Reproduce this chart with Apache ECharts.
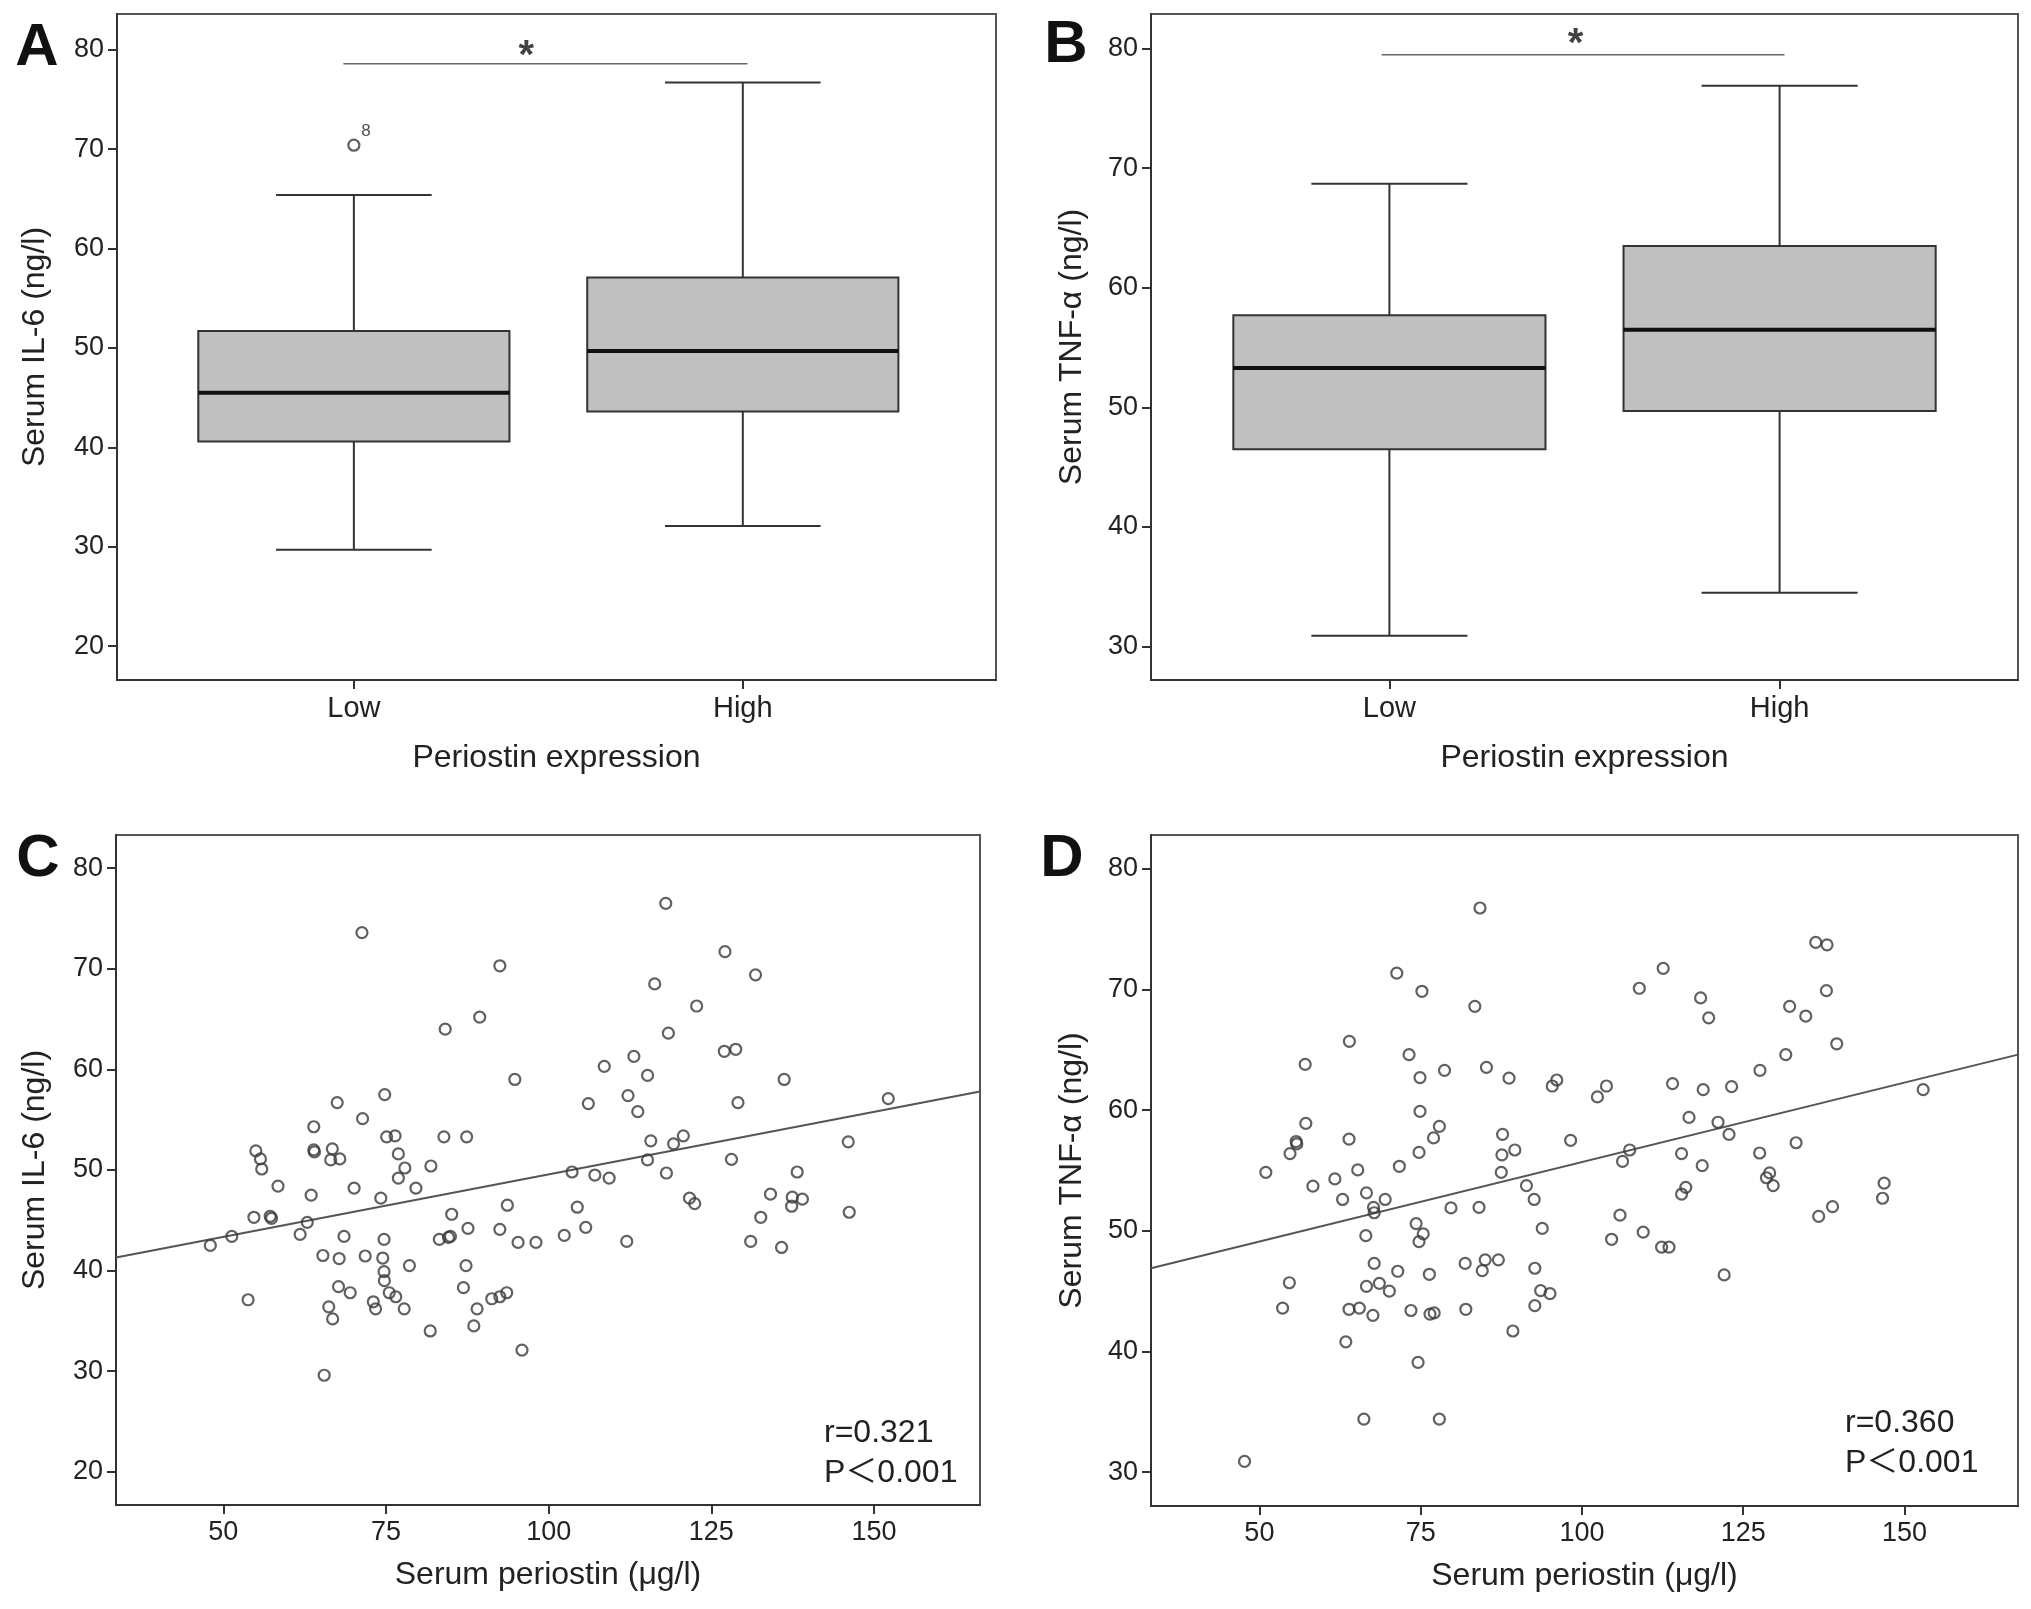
<!DOCTYPE html>
<html><head><meta charset="utf-8">
<script src="https://cdn.jsdelivr.net/npm/echarts@6/dist/echarts.min.js"></script>
<style>html,body{margin:0;padding:0;background:#fff}#c{width:2031px;height:1609px}</style>
</head><body><div id="c"></div>
<script>
// ---------- data ----------
const groups = ['Low', 'High'];
// [min, Q1, median, Q3, max]
const il6Low  = [29.7, 40.6, 45.5, 51.7, 65.4];
const il6High = [32.1, 43.6, 49.7, 57.1, 76.7];
const il6Outlier = [70.4];
const il6OutlierLabel = '8';
const tnfLow  = [30.9, 46.5, 53.3, 57.7, 68.7];
const tnfHigh = [34.5, 49.7, 56.5, 63.5, 76.9];
const sigIl6 = 78.6;
const sigTnf = 79.5;

const il6Ticks = [20, 30, 40, 50, 60, 70, 80];
const tnfTicks = [30, 40, 50, 60, 70, 80];
const periostinTicks = [50, 75, 100, 125, 150];

const periostinC = [71.3,92.5,89.4,84.1,94.8,74.8,67.5,71.4,63.9,
 75.1,76.4,83.9,87.4,55.0,55.7,55.9,63.9,64.0,66.75,66.5,67.9,
 76.9,77.9,76.9,81.9,79.6,70.1,74.2,63.5,58.4,54.7,57.2,57.4,
 62.9,61.8,51.3,48.0,68.55,74.7,65.3,67.8,71.8,74.5,78.6,
 74.7,74.75,75.5,76.5,67.7,69.5,73.05,73.4,77.8,66.2,66.8,53.8,65.5,
 81.8,86.9,87.3,85.1,87.6,83.2,84.6,84.9,93.65,92.5,95.3,98.05,
 89.0,88.5,91.25,92.5,93.55,95.9,
 118.0,127.1,131.8,116.3,122.75,118.4,113.1,108.55,115.2,127.0,128.75,136.2,112.2,106.1,113.7,129.1,152.2,
 115.7,119.2,120.7,146.05,103.6,107.1,109.3,115.2,118.1,128.1,138.2,121.65,122.45,134.1,137.45,139.0,137.35,146.2,132.6,104.4,105.7,102.4,112.0,131.05,135.8];
const il6 = [73.6,70.3,65.2,64.0,59.0,57.5,56.7,55.1,54.3,
 53.3,53.4,53.3,53.3,51.9,51.1,50.1,52.0,51.8,52.1,51.0,51.1,
 51.6,50.2,49.2,50.4,48.2,48.2,47.2,47.5,48.4,45.3,45.4,45.2,
 44.8,43.6,43.4,42.5,43.4,43.1,41.5,41.2,41.45,41.25,40.5,
 39.9,39.0,37.8,37.4,38.4,37.8,36.9,36.2,36.2,36.4,35.2,37.1,29.6,
 34.0,38.3,40.5,45.6,44.2,43.1,43.3,43.4,46.5,44.1,42.8,42.8,
 36.2,34.5,37.2,37.4,37.8,32.1,
 76.5,71.7,69.4,68.5,66.3,63.6,61.3,60.3,59.4,61.8,62.0,59.0,57.4,56.6,55.8,56.7,57.1,
 52.9,52.6,53.4,52.8,49.8,49.5,49.2,51.0,49.7,51.05,49.8,47.2,46.65,47.6,47.3,47.1,46.4,45.8,45.3,46.3,44.3,43.5,42.9,42.9,42.3];

const periostinD = [47.7,66.2,77.9,63.4,74.6,53.6,63.9,65.5,67.6,73.5,76.45,77.1,
 82.0,89.3,92.7,
 55.7,55.8,54.75,51.0,63.9,58.3,61.7,65.25,62.9,66.6,69.5,67.7,67.8,71.7,74.75,77.0,66.5,74.3,75.4,74.75,79.7,84.05,87.7,87.6,89.6,87.5,91.4,92.6,93.85,98.25,
 67.8,71.45,76.35,54.65,66.6,68.6,70.15,81.9,85.0,87.05,84.55,92.7,93.6,95.05,
 84.2,71.3,75.2,83.4,63.95,57.1,73.2,74.9,78.7,85.2,88.7,96.1,95.4,102.4,74.9,57.2,77.9,
 136.25,138.0,112.6,108.9,118.4,119.65,137.9,132.2,134.7,139.5,131.6,127.6,114.05,118.8,123.2,152.9,116.6,121.1,122.8,103.8,
 133.2,107.4,106.3,115.45,118.65,127.55,129.1,128.6,129.65,116.1,115.45,146.85,146.6,138.85,136.7,105.9,104.6,109.5,112.35,113.5,122.05];
const tnf = [30.9,34.4,34.4,40.8,39.1,43.6,43.5,43.6,43.0,43.4,43.1,43.2,
 43.5,41.7,43.8,
 57.4,57.2,56.4,54.85,57.6,53.7,54.3,55.05,52.6,53.15,52.6,51.95,51.5,55.35,56.5,57.7,49.6,50.6,49.75,49.1,51.9,51.95,58.0,56.3,56.7,54.85,53.75,52.6,50.2,57.5,
 47.3,46.65,46.4,45.7,45.4,45.65,45.0,47.3,47.6,47.6,46.7,46.9,45.05,44.8,
 76.75,71.35,69.85,68.6,65.7,63.8,64.6,62.7,63.3,63.55,62.65,62.5,62.0,61.1,59.9,58.9,58.65,
 73.9,73.7,71.75,70.1,69.3,67.65,69.9,68.6,67.8,65.5,64.6,63.3,62.2,61.7,61.95,61.7,59.4,59.0,58.0,62.0,
 57.3,56.7,55.75,56.4,55.4,56.45,54.8,54.4,53.75,53.6,53.05,53.95,52.7,52.0,51.2,51.3,49.3,49.9,48.65,48.65,46.35];

const fitC = [[33.5, 41.3], [166.3, 57.8]];
const fitD = [[33.2, 46.9], [167.6, 64.6]];
const statsC = ['r=0.321', 'P＜0.001'];
const statsD = ['r=0.360', 'P＜0.001'];

// ---------- chart ----------
const FONT = '"Liberation Sans", Arial, "Noto Sans CJK SC", sans-serif';
const TXT = '#222';
const LINE = '#333';

function yAxisCfg(gi, min, max, ticks, name, gap) {
  return {
    type: 'value', gridIndex: gi, min: min, max: max,
    name: name, nameLocation: 'middle', nameGap: gap,
    nameTextStyle: { fontSize: 32, color: TXT, fontFamily: FONT },
    axisLine: { show: true, onZero: false, lineStyle: { color: LINE, width: 2 } },
    axisTick: { show: true, length: 9, customValues: ticks, lineStyle: { color: LINE, width: 2 } },
    axisLabel: { customValues: ticks, fontSize: 27, color: TXT, margin: 13, fontFamily: FONT },
    splitLine: { show: false }
  };
}
function xAxisCfg(gi, min, max, ticks, name, gap, fmt, fs) {
  return {
    type: 'value', gridIndex: gi, min: min, max: max,
    name: name, nameLocation: 'middle', nameGap: gap,
    nameTextStyle: { fontSize: 32, color: TXT, fontFamily: FONT },
    axisLine: { show: true, onZero: false, lineStyle: { color: LINE, width: 2 } },
    axisTick: { show: true, length: 9, customValues: ticks, lineStyle: { color: LINE, width: 2 } },
    axisLabel: { customValues: ticks, fontSize: fs, color: TXT, margin: 14, fontFamily: FONT, formatter: fmt },
    splitLine: { show: false }
  };
}
function renderBox(params, api) {
  const x = api.value(0);
  const lo = api.coord([x, api.value(1)]);
  const q1 = api.coord([x, api.value(2)]);
  const md = api.coord([x, api.value(3)]);
  const q3 = api.coord([x, api.value(4)]);
  const hi = api.coord([x, api.value(5)]);
  const bw = api.size([0.8, 0])[0];
  const cw = api.size([0.4, 0])[0];
  const cx = lo[0];
  const st = { stroke: LINE, lineWidth: 2 };
  return { type: 'group', children: [
    { type: 'line', shape: { x1: cx, y1: hi[1], x2: cx, y2: q3[1] }, style: st },
    { type: 'line', shape: { x1: cx, y1: q1[1], x2: cx, y2: lo[1] }, style: st },
    { type: 'line', shape: { x1: cx - cw / 2, y1: hi[1], x2: cx + cw / 2, y2: hi[1] }, style: st },
    { type: 'line', shape: { x1: cx - cw / 2, y1: lo[1], x2: cx + cw / 2, y2: lo[1] }, style: st },
    { type: 'rect', shape: { x: cx - bw / 2, y: q3[1], width: bw, height: q1[1] - q3[1] }, style: { fill: '#c0c0c0', stroke: LINE, lineWidth: 2 } },
    { type: 'line', shape: { x1: cx - bw / 2, y1: md[1], x2: cx + bw / 2, y2: md[1] }, style: { stroke: '#111', lineWidth: 4 } }
  ]};
}
const groupFmt = v => groups[Math.round(v) - 1];
const ptStyle = { color: 'rgba(0,0,0,0)', borderColor: '#3a3a3a', borderWidth: 2.2 };
const gridBase = { show: true, borderColor: '#555', borderWidth: 2, backgroundColor: 'transparent' };

function statText(x, y, t) {
  return { type: 'text', x: x, y: y, style: { text: t, font: '32px ' + FONT, fill: TXT, verticalAlign: 'middle', align: 'left' } };
}
function letter(x, y, t) {
  return { type: 'text', x: x, y: y, style: { text: t, font: 'bold 60px ' + FONT, fill: '#111', verticalAlign: 'middle', align: 'center' } };
}

const option = {
  animation: false,
  backgroundColor: '#fff',
  grid: [
    Object.assign({ left: 117, top: 14, width: 879, height: 666 }, gridBase),
    Object.assign({ left: 1151, top: 14, width: 867, height: 666 }, gridBase),
    Object.assign({ left: 116, top: 835, width: 864, height: 670 }, gridBase),
    Object.assign({ left: 1151, top: 835, width: 867, height: 671 }, gridBase)
  ],
  xAxis: [
    xAxisCfg(0, 0.391, 2.651, [1, 2], 'Periostin expression', 62, groupFmt, 29),
    xAxisCfg(1, 0.389, 2.611, [1, 2], 'Periostin expression', 62, groupFmt, 29),
    xAxisCfg(2, 33.5, 166.3, periostinTicks, 'Serum periostin (μg/l)', 54, null, 27),
    xAxisCfg(3, 33.2, 167.6, periostinTicks, 'Serum periostin (μg/l)', 54, null, 27)
  ],
  yAxis: [
    yAxisCfg(0, 16.6, 83.6, il6Ticks, 'Serum IL-6 (ng/l)', 66),
    yAxisCfg(1, 27.2, 82.9, tnfTicks, 'Serum TNF-α (ng/l)', 63),
    yAxisCfg(2, 16.7, 83.3, il6Ticks, 'Serum IL-6 (ng/l)', 65),
    yAxisCfg(3, 27.2, 82.8, tnfTicks, 'Serum TNF-α (ng/l)', 63)
  ],
  series: [
    { type: 'custom', xAxisIndex: 0, yAxisIndex: 0, renderItem: renderBox,
      encode: { x: 0, y: [1, 2, 3, 4, 5] }, data: [[1].concat(il6Low), [2].concat(il6High)] },
    { type: 'custom', xAxisIndex: 1, yAxisIndex: 1, renderItem: renderBox,
      encode: { x: 0, y: [1, 2, 3, 4, 5] }, data: [[1].concat(tnfLow), [2].concat(tnfHigh)] },
    { type: 'scatter', xAxisIndex: 0, yAxisIndex: 0, symbol: 'circle', symbolSize: 11, itemStyle: ptStyle,
      data: il6Outlier.map(v => [1, v]),
      label: { show: true, formatter: il6OutlierLabel, position: 'inside', offset: [12, -14], fontSize: 17, color: TXT, fontFamily: FONT } },
    { type: 'line', xAxisIndex: 0, yAxisIndex: 0, symbol: 'none', lineStyle: { color: '#666', width: 1.5 },
      data: [[0.973, sigIl6], [2.012, sigIl6]] },
    { type: 'line', xAxisIndex: 1, yAxisIndex: 1, symbol: 'none', lineStyle: { color: '#666', width: 1.5 },
      data: [[0.98, sigTnf], [2.0125, sigTnf]] },
    { type: 'scatter', xAxisIndex: 0, yAxisIndex: 0, symbolSize: 1, itemStyle: { color: 'rgba(0,0,0,0)' },
      data: [[1.443, 80.1]],
      label: { show: true, formatter: '*', position: 'inside', offset: [0, 8], fontSize: 40, fontWeight: 'bold', color: '#111', fontFamily: FONT } },
    { type: 'scatter', xAxisIndex: 1, yAxisIndex: 1, symbolSize: 1, itemStyle: { color: 'rgba(0,0,0,0)' },
      data: [[1.477, 81.0]],
      label: { show: true, formatter: '*', position: 'inside', offset: [0, 8], fontSize: 40, fontWeight: 'bold', color: '#111', fontFamily: FONT } },
    { type: 'line', xAxisIndex: 2, yAxisIndex: 2, symbol: 'none', lineStyle: { color: '#555', width: 2 }, data: fitC, z: 1 },
    { type: 'line', xAxisIndex: 3, yAxisIndex: 3, symbol: 'none', lineStyle: { color: '#555', width: 2 }, data: fitD, z: 1 },
    { type: 'scatter', xAxisIndex: 2, yAxisIndex: 2, symbol: 'circle', symbolSize: 11, itemStyle: ptStyle,
      data: periostinC.map((x, i) => [x, il6[i]]), z: 3 },
    { type: 'scatter', xAxisIndex: 3, yAxisIndex: 3, symbol: 'circle', symbolSize: 11, itemStyle: ptStyle,
      data: periostinD.map((x, i) => [x, tnf[i]]), z: 3 }
  ],
  graphic: [
    letter(37, 48, 'A'), letter(1066, 45, 'B'), letter(38, 859, 'C'), letter(1062, 859, 'D'),
    statText(824, 1433, statsC[0]), statText(824, 1473, statsC[1]),
    statText(1845, 1423, statsD[0]), statText(1845, 1463, statsD[1])
  ]
};
const chart = echarts.init(document.getElementById('c'));
chart.setOption(option);
</script></body></html>
